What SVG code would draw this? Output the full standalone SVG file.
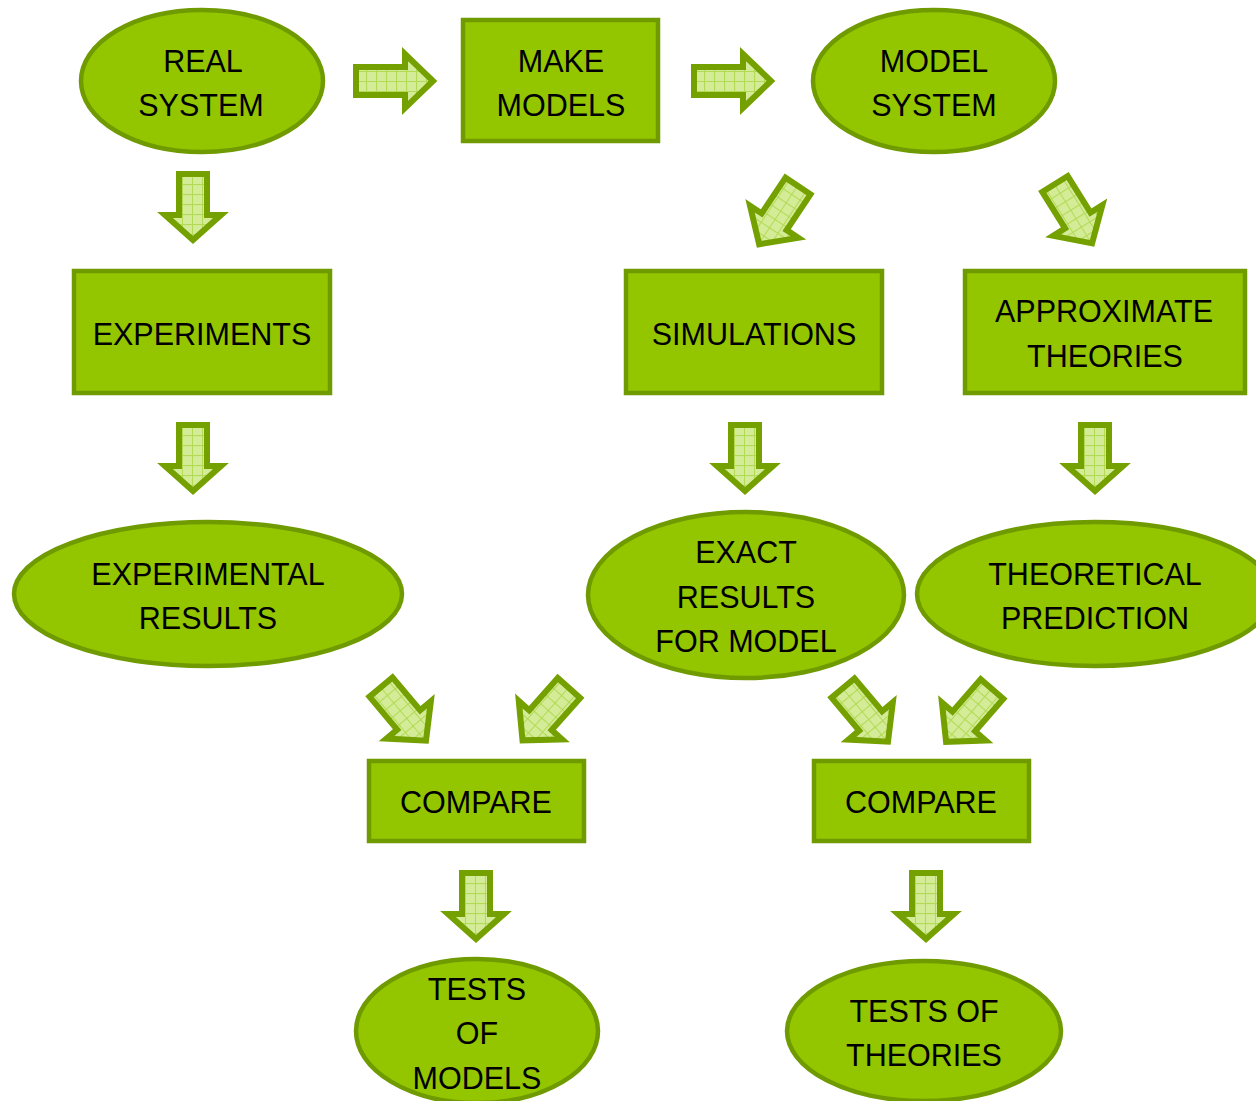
<svg xmlns="http://www.w3.org/2000/svg" width="1256" height="1101" viewBox="0 0 1256 1101">
<style>
.n{fill:#94C600;stroke:#6F9A00;stroke-width:4.5}
.t{font-family:"Liberation Sans",Arial,sans-serif;font-size:30.5px;fill:#000;text-anchor:middle}
.a{fill:url(#grid);stroke:#74A000;stroke-width:6;stroke-linejoin:miter}
</style>
<defs>
<pattern id="grid" patternUnits="userSpaceOnUse" width="10" height="10">
<rect width="10" height="10" fill="#D4EC98"/>
<path d="M0,0.5H10M0.5,0V10" stroke="#B3DA55" stroke-width="1.2"/>
</pattern>
<path id="arrH" d="M0,-14 H49 V-27 L77,0 L49,27 V14 H0 Z"/>
<path id="arrV" d="M0,-14 H41 V-28 L66,0 L41,28 V14 H0 Z"/>
<path id="arrD" d="M0,-15 H43 V-29 L70,0 L43,29 V15 H0 Z"/>
</defs>
<rect width="1256" height="1101" fill="#fff"/>
<g id="connectors">
<use href="#arrH" class="a" transform="translate(356,81)"/>
<use href="#arrH" class="a" transform="translate(694,81)"/>
<use href="#arrV" class="a" transform="translate(193,174) rotate(90)"/>
<use href="#arrV" class="a" transform="translate(193,425) rotate(90)"/>
<use href="#arrV" class="a" transform="translate(745,425) rotate(90)"/>
<use href="#arrV" class="a" transform="translate(1095,425) rotate(90)"/>
<use href="#arrV" class="a" transform="translate(476,873) rotate(90)"/>
<use href="#arrV" class="a" transform="translate(926,873) rotate(90)"/>
<use href="#arrD" class="a" transform="translate(798,186) rotate(123.7)"/>
<use href="#arrD" class="a" transform="translate(1055,184) rotate(58)"/>
<use href="#arrD" class="a" transform="translate(381,687) rotate(50)"/>
<use href="#arrD" class="a" transform="translate(569,688) rotate(131.6)"/>
<use href="#arrD" class="a" transform="translate(843,688) rotate(50)"/>
<use href="#arrD" class="a" transform="translate(992,689) rotate(131)"/>
</g>
<g id="real-system"><ellipse class="n" cx="202" cy="81" rx="121" ry="71"/><text class="t" x="203" y="72">REAL</text><text class="t" x="201" y="116">SYSTEM</text></g>
<g id="make-models"><rect class="n" x="463" y="20" width="195" height="121"/><text class="t" x="561" y="72">MAKE</text><text class="t" x="561" y="116">MODELS</text></g>
<g id="model-system"><ellipse class="n" cx="934" cy="81" rx="121" ry="71"/><text class="t" x="934" y="72">MODEL</text><text class="t" x="934" y="116">SYSTEM</text></g>
<g id="experiments"><rect class="n" x="74" y="271" width="256" height="122"/><text class="t" x="202" y="345">EXPERIMENTS</text></g>
<g id="simulations"><rect class="n" x="626" y="271" width="256" height="122"/><text class="t" x="754" y="345">SIMULATIONS</text></g>
<g id="approximate-theories"><rect class="n" x="965" y="271" width="280" height="122"/><text class="t" x="1104" y="322">APPROXIMATE</text><text class="t" x="1105" y="367">THEORIES</text></g>
<g id="experimental-results"><ellipse class="n" cx="208" cy="594" rx="194" ry="72"/><text class="t" x="208" y="585">EXPERIMENTAL</text><text class="t" x="208" y="629">RESULTS</text></g>
<g id="exact-results"><ellipse class="n" cx="746" cy="595" rx="158" ry="83"/><text class="t" x="746" y="563">EXACT</text><text class="t" x="746" y="608">RESULTS</text><text class="t" x="746" y="652">FOR MODEL</text></g>
<g id="theoretical-prediction"><ellipse class="n" cx="1095" cy="594" rx="178" ry="72"/><text class="t" x="1095" y="585">THEORETICAL</text><text class="t" x="1095" y="629">PREDICTION</text></g>
<g id="compare-left"><rect class="n" x="369" y="761" width="215" height="80"/><text class="t" x="476" y="813">COMPARE</text></g>
<g id="compare-right"><rect class="n" x="814" y="761" width="215" height="80"/><text class="t" x="921" y="813">COMPARE</text></g>
<g id="tests-of-models"><ellipse class="n" cx="477" cy="1031" rx="121" ry="72"/><text class="t" x="477" y="1000">TESTS</text><text class="t" x="477" y="1044">OF</text><text class="t" x="477" y="1089">MODELS</text></g>
<g id="tests-of-theories"><ellipse class="n" cx="924" cy="1031" rx="137" ry="70"/><text class="t" x="924" y="1022">TESTS OF</text><text class="t" x="924" y="1066">THEORIES</text></g>
</svg>
